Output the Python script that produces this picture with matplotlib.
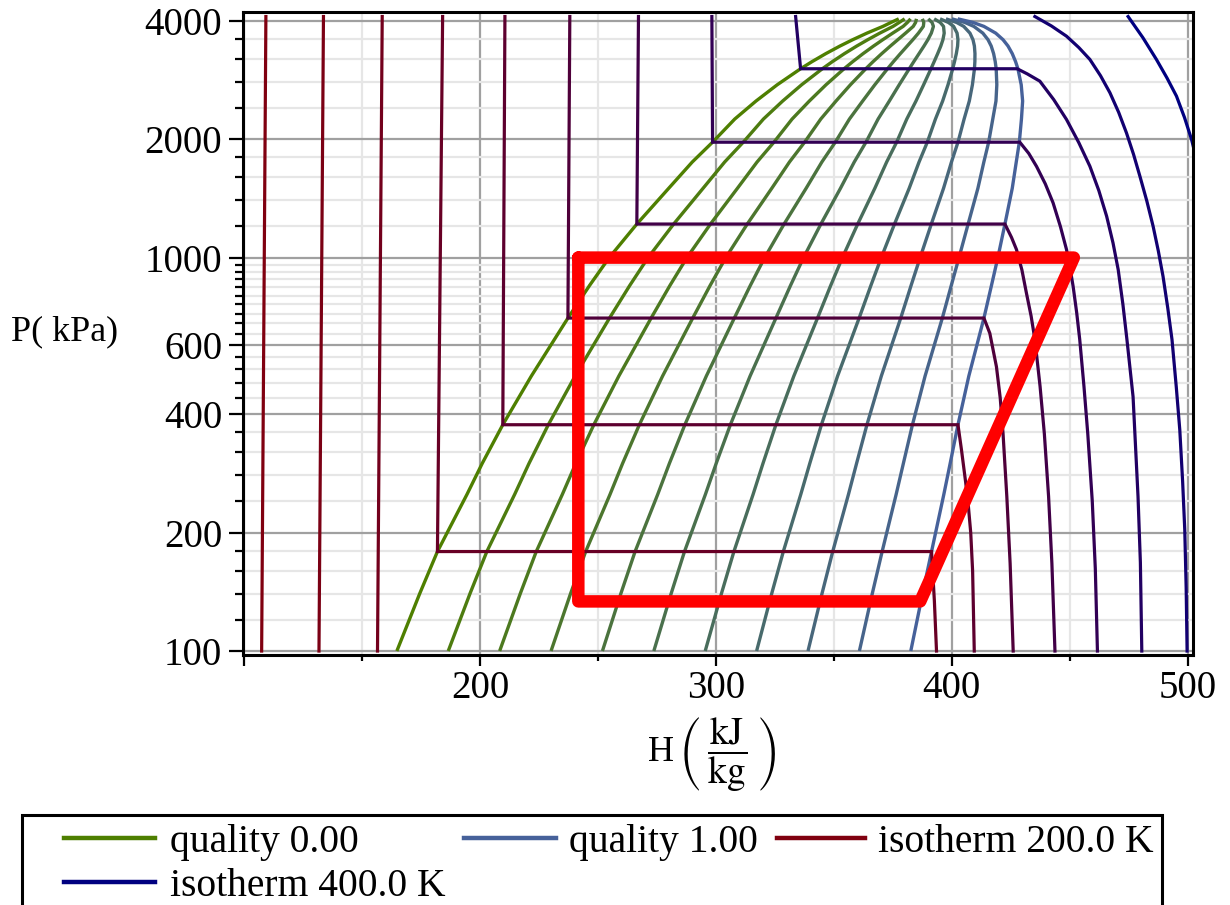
import numpy as np
import matplotlib
matplotlib.use('Agg')
import matplotlib.pyplot as plt
from matplotlib.lines import Line2D
from matplotlib.patches import Rectangle

plt.rcParams['font.family'] = ['Liberation Serif', 'DejaVu Serif']
plt.rcParams['mathtext.fontset'] = 'stix'

W, H = 1230, 905

# saturation dome (P in kPa, H in kJ/kg)
sat_p = [100, 140, 179, 250, 300, 376, 500, 702, 850, 1000, 1217, 1500,
         1750, 1965, 2250, 2500, 2750, 3020, 3150, 3300, 3450, 3580,
         3720, 3870, 3960, 4045]
sat_h_liq = [164.8, 174.5, 182.0, 194.5, 201.0, 209.7, 221.8, 237.3, 246.5,
             254.8, 266.5, 280.0, 290.0, 298.6, 308.0, 317.0, 326.0, 335.9,
             340.8, 346.6, 352.6, 358.0, 364.0, 370.8, 374.2, 377.5]
sat_h_vap = [382.6, 387.6, 391.4, 396.6, 399.3, 402.6, 407.2, 413.6, 416.8,
             419.5, 422.5, 425.6, 427.3, 428.6, 429.5, 430.0, 429.4, 428.0,
             427.0, 425.6, 423.8, 421.7, 418.6, 413.6, 409.0, 402.5]
qualities = [0.0, 0.1, 0.2, 0.3, 0.4, 0.5, 0.6, 0.7, 0.8, 0.9, 1.0]

# isotherms (liquid branch, flat two-phase part, vapour branch)
iso_temps = [200, 220, 240, 260, 280, 300, 320, 340, 360, 380, 400]
iso200_h = [109.3, 107.5]
iso200_p = [4100, 100]
iso220_h = [133.7, 131.8]
iso220_p = [4100, 100]
iso240_h = [158.6, 156.6]
iso240_p = [4100, 100]
iso260_h = [184.2, 182.0, 391.4, 392.6, 393.5]
iso260_p = [4100, 179, 179, 134, 100]
iso280_h = [210.6, 209.7, 402.6, 404.1, 405.8, 406.8, 408.0, 408.8, 409.5]
iso280_p = [4100, 376, 376, 324, 270, 241, 200, 160, 100]
iso300_h = [238.1, 237.3, 413.6, 416.1, 418.9, 420.5, 421.7, 423.3, 424.7, 426.0]
iso300_p = [4100, 702, 702, 642, 528, 440, 357, 247, 167, 100]
iso320_h = [267.2, 266.5, 422.5, 425.3, 427.4, 429.7, 431.6, 433.6, 435.2,
            437.4, 439.2, 441.0, 442.4, 443.7]
iso320_p = [4100, 1217, 1217, 1125, 1048, 930, 813, 710, 619, 470, 357, 247,
            167, 100]
iso340_h = [298.3, 298.6, 428.8, 432.6, 435.9, 439.6, 442.9, 446.0, 448.6,
            450.1, 451.4, 452.9, 454.2, 456.0, 457.6, 459.5, 460.8, 461.7]
iso340_p = [4100, 1965, 1965, 1840, 1705, 1540, 1378, 1200, 1048, 940, 845,
            725, 619, 470, 357, 241, 162, 100]
iso360_h = [333.8, 335.9, 427.7, 432.0, 437.3, 443.2, 448.6, 453.8, 458.5,
            462.3, 465.6, 468.3, 470.5, 472.5, 474.2, 476.8, 478.9, 479.9,
            480.5]
iso360_p = [4100, 3020, 3020, 2930, 2808, 2520, 2244, 1960, 1707, 1480, 1274,
            1090, 932, 760, 619, 443, 247, 168, 100]
iso380_h = [435.2, 442.2, 448.6, 453.8, 458.5, 463.0, 467.0, 470.7, 474.0,
            477.0, 479.7, 482.6, 485.3, 487.5, 489.5, 491.5, 493.3, 495.1,
            496.6, 497.8, 498.7, 499.3, 499.7]
iso380_p = [4100, 3880, 3654, 3420, 3189, 2900, 2624, 2340, 2075, 1830, 1610,
            1395, 1201, 1040, 896, 745, 619, 470, 365, 270, 204, 145, 100]
iso400_h = [474.7, 481.0, 486.7, 491.2, 495.2, 498.6, 501.6, 505.0]
iso400_p = [4100, 3620, 3189, 2860, 2573, 2270, 1995, 1650]

iso_h = [iso200_h, iso220_h, iso240_h, iso260_h, iso280_h, iso300_h,
         iso320_h, iso340_h, iso360_h, iso380_h, iso400_h]
iso_p = [iso200_p, iso220_p, iso240_p, iso260_p, iso280_p, iso300_p,
         iso320_p, iso340_p, iso360_p, iso380_p, iso400_p]

# refrigeration cycle overlay
cycle_h = [241.7, 451.7, 386.6, 241.7, 241.7]
cycle_p = [1000, 1000, 133.7, 133.7, 1000]

y_major = [100, 200, 400, 600, 1000, 2000, 4000]
y_minor = [120, 140, 160, 180, 240, 280, 320, 360, 440, 480, 520, 560,
           640, 680, 720, 760, 800, 840, 880, 920, 960,
           1200, 1400, 1600, 1800, 2400, 2800, 3200, 3600]
x_major = [100, 200, 300, 400, 500]
x_minor = [150, 250, 350, 450]

q_col0 = np.array([0x4e, 0x7f, 0x00]) / 255
q_col1 = np.array([0x46, 0x61, 0x9a]) / 255
t_col0 = np.array([0x80, 0x00, 0x10]) / 255
t_col1 = np.array([0x00, 0x00, 0x80]) / 255


def blend(c0, c1, f):
    return tuple(c0 + (c1 - c0) * f)


fig = plt.figure(figsize=(W / 100, H / 100), dpi=100)
ax = fig.add_axes([243 / W, 1 - 655 / H, (1193 - 243) / W, (655 - 12) / H])
ax.set_yscale('log')
ax.set_xlim(99.6, 502.2)
ax.set_ylim(97.7, 4210)

# grid: verticals first, then horizontal minor, then horizontal major
for x in x_minor:
    ax.axvline(x, color='#e6e6e6', lw=1.6, zorder=0.5)
for x in x_major:
    ax.axvline(x, color='#a0a0a0', lw=1.6, zorder=0.6)
for y in y_minor:
    ax.axhline(y, color='#e6e6e6', lw=1.6, zorder=0.7)
for y in y_major:
    ax.axhline(y, color='#a0a0a0', lw=1.6, zorder=0.8)

hl = np.array(sat_h_liq)
hv = np.array(sat_h_vap)
for q in qualities:
    ax.plot(hl + q * (hv - hl), sat_p, color=blend(q_col0, q_col1, q),
            lw=2.4, zorder=2, solid_capstyle='butt', solid_joinstyle='round')

for i, (hh, pp) in enumerate(zip(iso_h, iso_p)):
    f = (i / (len(iso_temps) - 1)) ** 1.4
    ax.plot(hh, pp, color=blend(t_col0, t_col1, f), lw=2.3, zorder=3,
            solid_joinstyle='miter')

ax.plot(cycle_h, cycle_p, color='#ff0000', lw=9, zorder=5,
        solid_joinstyle='round', solid_capstyle='round')

ax.set_xticks(x_major)
ax.set_xticklabels([''] + [str(v) for v in x_major[1:]])
ax.set_xticks(x_minor, minor=True)
ax.set_yticks(y_major)
ax.set_yticklabels([str(v) for v in y_major])
ax.set_yticks(y_minor, minor=True)
ax.yaxis.set_minor_formatter(matplotlib.ticker.NullFormatter())
ax.tick_params(axis='both', which='major', labelsize=28, width=1.6,
               color='black')
ax.tick_params(axis='y', which='major', length=10, pad=5)
ax.tick_params(axis='y', which='minor', length=6, width=1.6)
ax.tick_params(axis='x', which='major', length=8, pad=3)
ax.tick_params(axis='x', which='minor', length=4, width=1.6)
for s in ax.spines.values():
    s.set_linewidth(2.2)
    s.set_zorder(6)

fig.text(11 / W, 1 - 332 / H, 'P( kPa)', fontsize=26, ha='left', va='center')
fig.text(648 / W, 1 - 752 / H, 'H', fontsize=26, ha='left', va='center')
fig.text(678 / W, 1 - 755 / H,
         r'$\left(\;\dfrac{\mathrm{kJ}}{\mathrm{kg}}\;\right)$',
         fontsize=27, ha='left', va='center')

# legend drawn by hand to follow the original layout
fig.add_artist(Rectangle((22 / W, 1 - 925 / H), (1162 - 22) / W, 110 / H,
                         transform=fig.transFigure, fill=False,
                         edgecolor='black', lw=2.2))
legend_rows = [
    (838, 64, 155, 169.5, tuple(q_col0), 'quality 0.00'),
    (838, 464, 556, 568.8, tuple(q_col1), 'quality 1.00'),
    (838, 777, 865, 878, tuple(t_col0), 'isotherm 200.0 K'),
    (882, 64, 155, 169.5, tuple(t_col1), 'isotherm 400.0 K'),
]
for yy, x0, x1, xt, col, lab in legend_rows:
    fig.add_artist(Line2D([x0 / W, x1 / W], [1 - yy / H, 1 - yy / H],
                          transform=fig.transFigure, color=col, lw=3.2))
    fig.text(xt / W, 1 - yy / H, lab, fontsize=28.5, ha='left',
             va='center_baseline')

fig.savefig('out.png', dpi=100)
